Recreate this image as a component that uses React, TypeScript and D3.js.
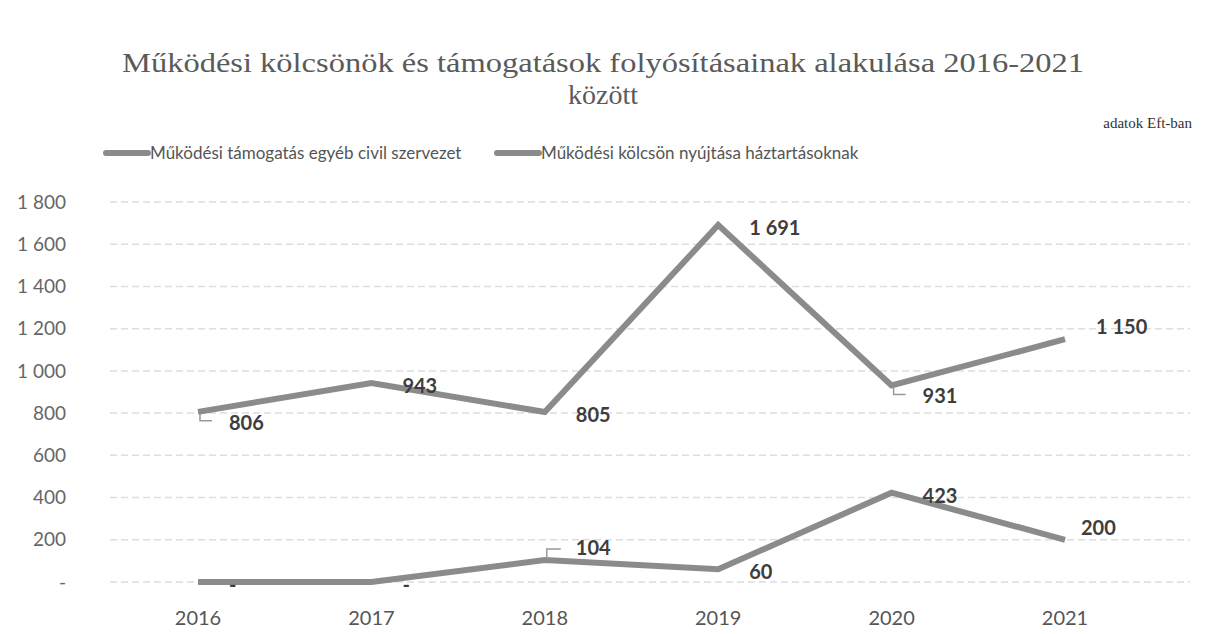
import React from 'react';
import * as d3 from 'd3';

const years = ['2016', '2017', '2018', '2019', '2020', '2021'];
const civilValues = [806, 943, 805, 1691, 931, 1150];
const householdValues = [0, 0, 104, 60, 423, 200];
const seriesNames = [
  'Működési támogatás egyéb civil szervezet',
  'Működési kölcsön nyújtása háztartásoknak',
];
const yTicks = [0, 200, 400, 600, 800, 1000, 1200, 1400, 1600, 1800];
// label placement per point: 'a' above-right, 'r' right, 'b' below-right
const civilLabelPos = ['b', 'r', 'r', 'r', 'b', 'a'];
const householdLabelPos = ['r', 'r', 'a', 'r', 'r', 'a'];
// points whose label has a small leader line: 'd' down, 'u' up, '' none
const civilLeaders = ['d', '', '', '', 'd', ''];
const householdLeaders = ['', '', 'u', '', '', ''];

const W = 1211;
const H = 634;
const SANS = 'Lato, "Noto Sans", sans-serif';
const SERIF = '"Liberation Serif", "DejaVu Serif", serif';

const locale = d3.formatLocale({ decimal: ',', thousands: ' ', grouping: [3], currency: ['', ' Ft'] });
const fmt = (v: number) => (v === 0 ? '-' : locale.format(',')(v));

export default function App() {
  const x = d3.scalePoint<string>().domain(years).range([198, 1065]);
  const y = d3.scaleLinear().domain([0, 1800]).range([582, 202]);
  const line = d3
    .line<number>()
    .x((_, i) => x(years[i]) as number)
    .y((d) => y(d));

  const lineColor = '#8b8b8b';
  const labelColor = '#3d3d3d';

  const labels = (vals: number[], pos: string[], leaders: string[]) =>
    vals.map((v, i) => {
      const px = x(years[i]) as number;
      const py = y(v);
      const p = pos[i];
      const dy = p === 'a' ? -12 : p === 'b' ? 11 : 3;
      const dx = p === 'a' && i === vals.length - 1 && v < 500 ? 16 : 31;
      const ld = leaders[i];
      return (
        <g key={i}>
          {ld === 'd' && (
            <path d={`M${px + 2},${py + 2} L${px + 2},${py + 9} L${px + 14},${py + 9}`} fill="none" stroke="#999" strokeWidth={1.5} />
          )}
          {ld === 'u' && (
            <path d={`M${px + 2},${py - 2} L${px + 2},${py - 11} L${px + 16},${py - 11}`} fill="none" stroke="#999" strokeWidth={1.5} />
          )}
          <text
            x={px + dx}
            y={py + dy}
            dy="0.35em"
            fontFamily={SANS}
            fontWeight={700}
            fontSize={20}
            fill={labelColor}
          >
            {fmt(v)}
          </text>
        </g>
      );
    });

  return (
    <svg width={W} height={H} style={{ position: 'absolute', left: 0, top: 0, background: '#fff' }}>
      <text
        x={603}
        y={72}
        textAnchor="middle"
        fontFamily={SERIF}
        fontSize={28}
        fill="#5a5a5a"
        textLength={962}
        lengthAdjust="spacingAndGlyphs"
      >
        Működési kölcsönök és támogatások folyósításainak alakulása 2016-2021
      </text>
      <text x={603} y={104} textAnchor="middle" fontFamily={SERIF} fontSize={28} fill="#5a5a5a">
        között
      </text>
      <text x={1192} y={128} textAnchor="end" fontFamily={SERIF} fontSize={15} fill="#333">
        adatok Eft-ban
      </text>

      {/* legend */}
      {seriesNames.map((name, i) => {
        const lx = i === 0 ? 106 : 497;
        return (
          <g key={name}>
            <line x1={lx} x2={lx + 42} y1={153} y2={153} stroke={lineColor} strokeWidth={6} strokeLinecap="round" />
            <text x={lx + 44} y={159} fontFamily={SANS} fontSize={17} fill="#555">
              {name}
            </text>
          </g>
        );
      })}

      {/* gridlines + y axis */}
      {yTicks.map((t) => (
        <g key={t}>
          <line x1={110} x2={1190} y1={y(t)} y2={y(t)} stroke="#dddddd" strokeWidth={1.5} strokeDasharray="7 4" />
          <text x={66} y={y(t)} dy="0.35em" textAnchor="end" fontFamily={SANS} fontSize={19} fill="#666">
            {fmt(t)}
          </text>
        </g>
      ))}

      {/* x axis labels */}
      {years.map((yr) => (
        <text key={yr} x={x(yr)} y={618} dy="0.35em" textAnchor="middle" fontFamily={SANS} fontSize={20} fill="#555">
          {yr}
        </text>
      ))}

      <path d={line(civilValues) || ''} fill="none" stroke={lineColor} strokeWidth={6} strokeLinejoin="miter" />
      <path d={line(householdValues) || ''} fill="none" stroke={lineColor} strokeWidth={6} strokeLinejoin="miter" />

      {labels(civilValues, civilLabelPos, civilLeaders)}
      {labels(householdValues, householdLabelPos, householdLeaders)}
    </svg>
  );
}
